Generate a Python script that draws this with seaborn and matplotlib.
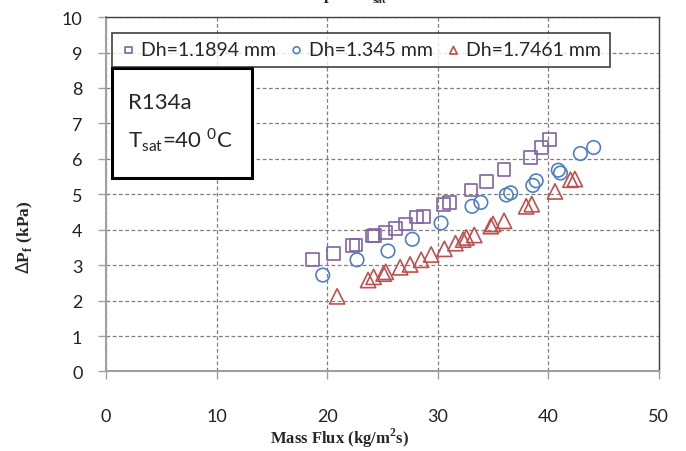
import pandas as pd
import matplotlib.pyplot as plt
import seaborn as sns
from matplotlib.patches import Rectangle

# Dh = 1.1894 mm (squares)
g_1189 = [18.7, 20.6, 22.3, 22.6, 24.1, 24.3, 25.3, 26.2, 27.1, 28.1,
          28.7, 30.5, 31.1, 33.0, 34.4, 36.0, 38.4, 39.4, 40.1]
dp_1189 = [3.15, 3.33, 3.55, 3.57, 3.82, 3.83, 3.93, 4.04, 4.16, 4.36,
           4.37, 4.72, 4.77, 5.12, 5.35, 5.70, 6.03, 6.32, 6.54]

# Dh = 1.345 mm (circles)
g_1345 = [19.6, 22.7, 25.5, 27.7, 30.3, 33.1, 33.9, 36.2, 36.6, 38.6,
          38.9, 40.9, 41.1, 42.9, 44.1]
dp_1345 = [2.72, 3.15, 3.40, 3.73, 4.19, 4.66, 4.77, 4.98, 5.04, 5.25,
           5.38, 5.68, 5.60, 6.15, 6.32]

# Dh = 1.7461 mm (triangles)
g_1746 = [20.9, 23.7, 24.2, 25.1, 25.3, 26.6, 27.5, 28.5, 29.4, 30.6,
          31.6, 32.3, 32.6, 33.3, 34.8, 35.0, 36.0, 38.0, 38.5, 40.6,
          42.0, 42.4]
dp_1746 = [2.12, 2.58, 2.67, 2.76, 2.81, 2.94, 3.02, 3.15, 3.30, 3.46,
           3.62, 3.72, 3.78, 3.85, 4.10, 4.16, 4.25, 4.66, 4.72, 5.08,
           5.41, 5.43]

series_labels = ['Dh=1.1894 mm', 'Dh=1.345 mm', 'Dh=1.7461 mm']
series_colors = ['#8064A2', '#4F81BD', '#C0504D']
series_markers = ['s', 'o', '^']
series_sizes = [85, 95, 120]

sns.set_theme(style='white')
plt.rcParams['font.family'] = ['Lato', 'DejaVu Sans']

fig = plt.figure(figsize=(6.86, 4.52), dpi=100)
ax = fig.add_axes([0.1545, 0.176, 0.806, 0.784])

data = [(g_1189, dp_1189), (g_1345, dp_1345), (g_1746, dp_1746)]
for (gx, dy), lab, col, mk, sz in zip(data, series_labels, series_colors,
                                      series_markers, series_sizes):
    df = pd.DataFrame({'G': gx, 'dP': dy})
    sns.scatterplot(data=df, x='G', y='dP', ax=ax, marker=mk, s=sz,
                    color=col, facecolors='none', edgecolor=col,
                    linewidth=1.2, label=lab, zorder=3)

ax.set_xlim(0, 50)
ax.set_ylim(0, 10)
ax.set_xticks(range(0, 51, 10))
ax.set_yticks(range(0, 11, 1))
ax.grid(True, color='#7f7f7f', linestyle=(0, (3, 2)), linewidth=0.9)
ax.set_axisbelow(True)

for side in ['left', 'bottom']:
    ax.spines[side].set_color('#a0a0a0')
    ax.spines[side].set_linewidth(1.5)
for side in ['top', 'right']:
    ax.spines[side].set_color('#404040')
    ax.spines[side].set_linewidth(1.0)

ax.tick_params(axis='both', direction='out', length=6, width=1, color='#a0a0a0',
               labelsize=13, labelcolor='#222222')
ax.tick_params(axis='x', pad=20, bottom=True)
ax.tick_params(axis='y', pad=11, left=True)
ax.set_xlabel('')
ax.set_ylabel('')

leg = ax.legend(loc='lower left', bbox_to_anchor=(0.011, 0.859, 0.9, 0.124),
                mode='expand', ncol=3, frameon=True, fancybox=False,
                edgecolor='#222222', fontsize=14, markerscale=0.5,
                handletextpad=0.25, borderaxespad=0, borderpad=0.45,
                handlelength=0.8, columnspacing=0.5)
leg.get_frame().set_linewidth(1.3)

# condition box
ax.add_patch(Rectangle((0.011, 0.546), 0.253, 0.31, transform=ax.transAxes,
                       fill=True, facecolor='white', edgecolor='black',
                       linewidth=2.2, zorder=4))
ax.text(0.04, 0.76, 'R134a', transform=ax.transAxes, fontsize=16,
        va='center', ha='left', zorder=5)
ax.text(0.04, 0.656, r'T$_{\mathregular{sat}}$=40 $^{\mathregular{0}}$C',
        transform=ax.transAxes, fontsize=16, va='center', ha='left', zorder=5)

fig.text(339 / 686, 1 - 450 / 452, 'Mass Flux (kg/m$^{\\mathregular{2}}$s)',
         family='Liberation Serif', weight='bold', fontsize=12,
         ha='center', va='bottom')
fig.text(25 / 686, 1 - 237 / 452, r'$\Delta$P$_{\mathregular{f}}$ (kPa)',
         family='Liberation Serif', weight='bold', fontsize=12.5,
         ha='center', va='center', rotation=90)

# title cut off at top of the image
fig.text(0.478, 1.012, 'p', family='Liberation Serif', weight='bold',
         fontsize=12, ha='center', va='center')
fig.text(0.553, 0.998, 'sat', family='Liberation Serif', weight='bold',
         fontsize=8, ha='center', va='center')

fig.savefig('out.png', dpi=100)
